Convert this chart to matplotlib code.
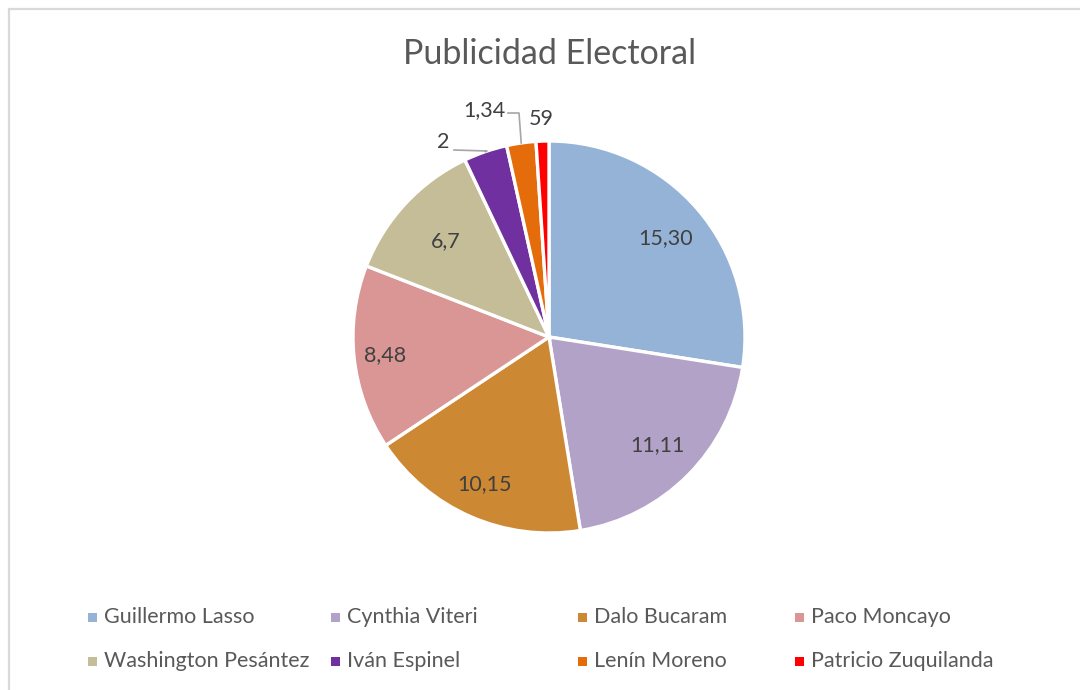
import matplotlib
matplotlib.use("Agg")
import matplotlib.pyplot as plt
import numpy as np
from matplotlib.patches import Rectangle

# ---- data ----
candidates = ["Guillermo Lasso", "Cynthia Viteri", "Dalo Bucaram", "Paco Moncayo",
              "Washington Pesántez", "Iván Espinel", "Lenín Moreno", "Patricio Zuquilanda"]
values = [15.30, 11.11, 10.15, 8.48, 6.7, 2, 1.34, 0.59]
value_labels = ["15,30", "11,11", "10,15", "8,48", "6,7", "2", "1,34", "59"]
colors = ["#95B3D7", "#B3A2C7", "#CC8833", "#D99694", "#C4BD97", "#7030A0", "#E46C0A", "#FF0000"]
title = "Publicidad Electoral"

plt.rcParams['font.family'] = ['Lato', 'DejaVu Sans']
W, H = 1080, 690
fig = plt.figure(figsize=(W / 100, H / 100), dpi=100)
fig.patch.set_facecolor("white")

# chart border
fig.patches.append(Rectangle((9 / W, 0 - 0.01), 1.2, (H - 9) / H + 0.01, transform=fig.transFigure,
                             fill=False, edgecolor="#D9D9D9", linewidth=1.6, zorder=0))

# pie axes: center (550, 337) px, radius 196 px
R = 196
cx, cy = 549, H - 337
half = 260
ax = fig.add_axes([(cx - half) / W, (cy - half) / H, 2 * half / W, 2 * half / H])

wedges, _ = ax.pie(values, colors=colors, startangle=90, counterclock=False, radius=1.0,
                   wedgeprops=dict(edgecolor="white", linewidth=2.4))
ax.set_xlim(-half / R, half / R)
ax.set_ylim(-half / R, half / R)
ax.axis("off")

txt_color = "#404040"
lab_fs = 15.5
inner_r = [0.78, 0.78, 0.82, 0.84, 0.72]
for i, w in enumerate(wedges):
    mid = np.deg2rad((w.theta1 + w.theta2) / 2)
    if i < 5:
        r = inner_r[i]
        ax.text(r * np.cos(mid), r * np.sin(mid), value_labels[i], ha="center", va="center",
                fontsize=lab_fs, color=txt_color)

# outside labels for small slices
def px(x, y):
    return ((x - cx) / R, ((H - y) - cy) / R)

m5 = np.deg2rad((wedges[5].theta1 + wedges[5].theta2) / 2)
ax.text(*px(443, 142), value_labels[5], ha="center", va="center", fontsize=lab_fs, color=txt_color)
ax.plot([px(454, 150)[0], px(487, 151)[0], np.cos(m5)],
        [px(454, 150)[1], px(487, 151)[1], np.sin(m5)], color="#A6A6A6", lw=1.2)
m6 = np.deg2rad((wedges[6].theta1 + wedges[6].theta2) / 2)
ax.text(*px(484, 110), value_labels[6], ha="center", va="center", fontsize=lab_fs, color=txt_color)
ax.plot([px(508, 113)[0], px(519, 113)[0], np.cos(m6)],
        [px(508, 113)[1], px(519, 113)[1], np.sin(m6)], color="#A6A6A6", lw=1.2)
ax.text(*px(541, 119), value_labels[7], ha="center", va="center", fontsize=lab_fs, color=txt_color)

# title
fig.text(550 / W, 1 - 54 / H, title, ha="center", va="center", fontsize=24.5, color="#595959")

# legend (row-major, 4 columns)
col_x = [88, 331, 578, 795]
row_y = [617, 661]
for i, name in enumerate(candidates):
    r, c = divmod(i, 4)
    x, y = col_x[c], row_y[r]
    fig.patches.append(Rectangle((x / W, 1 - (y + 4.5) / H), 9 / W, 9 / H,
                                 transform=fig.transFigure, facecolor=colors[i], edgecolor="none"))
    fig.text((x + 16) / W, 1 - y / H, name, ha="left", va="center", fontsize=15.5, color="#595959")

fig.savefig("out.png", dpi=100, facecolor="white")
